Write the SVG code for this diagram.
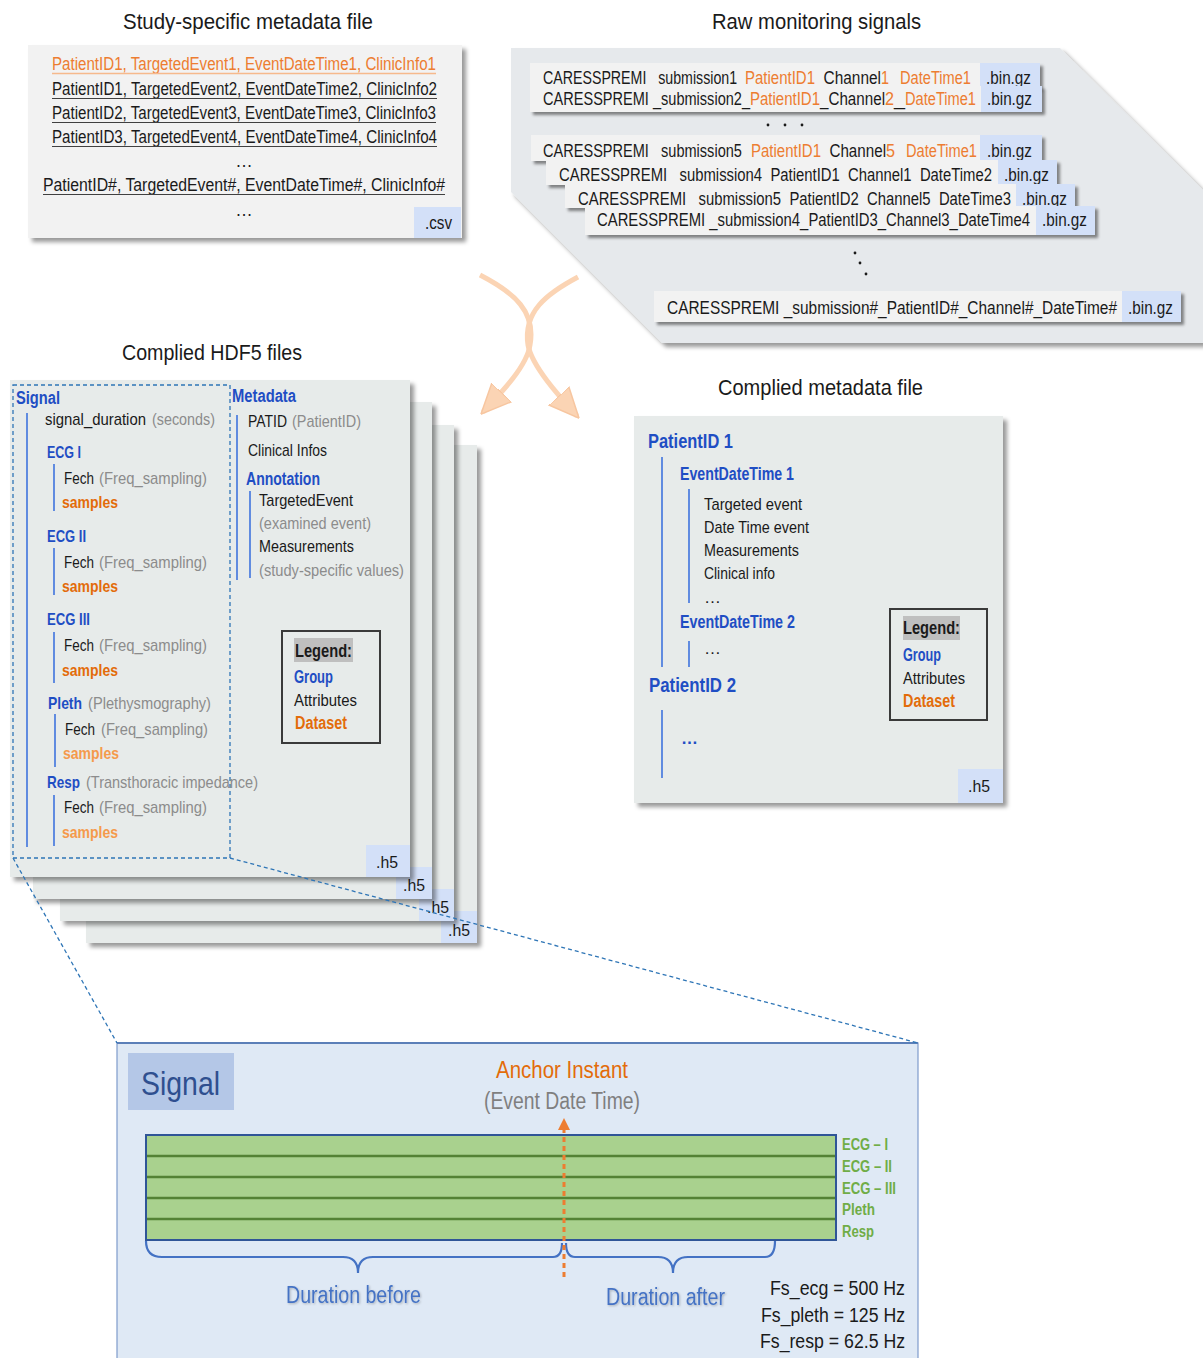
<svg xmlns="http://www.w3.org/2000/svg" width="1203" height="1358" viewBox="0 0 1203 1358">
<defs>
  <filter id="shadow" x="-5%" y="-5%" width="115%" height="115%">
    <feDropShadow dx="4" dy="4" stdDeviation="2" flood-color="#000" flood-opacity="0.4"/>
  </filter>
  <filter id="shadowSm" x="-5%" y="-20%" width="115%" height="160%">
    <feDropShadow dx="3" dy="3" stdDeviation="1.5" flood-color="#000" flood-opacity="0.45"/>
  </filter>
  <filter id="txtShadow" x="-5%" y="-20%" width="115%" height="160%">
    <feDropShadow dx="1" dy="1" stdDeviation="0.8" flood-color="#000" flood-opacity="0.25"/>
  </filter>
  <marker id="softHead" viewBox="0 0 10 10" refX="9" refY="5" markerWidth="30" markerHeight="30" markerUnits="userSpaceOnUse" orient="auto">
    <path d="M0,0.5 L10,5 L0,9.5 Z" fill="#fbd4b4" stroke="#f7c6a0" stroke-width="0.5"/>
  </marker>
  <marker id="anchorHead" viewBox="0 0 10 10" refX="5" refY="5" markerWidth="12" markerHeight="12" markerUnits="userSpaceOnUse" orient="auto">
    <path d="M0,0 L10,5 L0,10 Z" fill="#ed7d31"/>
  </marker>
</defs>
<style>
  text { font-family: 'Liberation Sans Narrow', 'Liberation Sans', Arial, sans-serif; fill: #1a1a1a; }
  .title { font-size: 22px; }
  .row { font-size: 17.5px; }
  .attr { font-size: 17px; }
  .grp { fill: #1f4ec4; font-weight: bold; }
  .ds { fill: #e36c0a; font-weight: bold; }
  .ds2 { fill: #f59a4c; font-weight: bold; }
  .gry { fill: #8c8c8c; }
  .or { fill: #ed7d31; }
  .paper { fill: #f2f2f2; }
  .page { fill: #e7ebea; filter: url(#shadow); }
  .ext { fill: #d3e0f8; }
  .tree { stroke: #3f74de; stroke-width: 1.6; fill: none; }
  .zoomline { stroke: #2e75b6; stroke-width: 1.3; stroke-dasharray: 4 3; fill: none; }
  .legend { fill: none; stroke: #3a3a3a; stroke-width: 2; }
  .fnbox { fill: #f2f2f2; filter: url(#shadowSm); }
  .uline { stroke: #404040; stroke-width: 1.2; }
</style>

<!-- Study-specific metadata file (.csv) -->
<g id="csv-file">
  <text class="title" x="123" y="29" textLength="250" lengthAdjust="spacingAndGlyphs">Study-specific metadata file</text>
  <rect x="28" y="45" width="434" height="193" class="paper" filter="url(#shadow)"/>
  <rect x="414" y="207" width="47" height="31" class="ext"/>
  <g class="row">
    <text x="52" y="70" class="or" textLength="384" lengthAdjust="spacingAndGlyphs">PatientID1, TargetedEvent1, EventDateTime1, ClinicInfo1</text>
    <text x="52" y="95" textLength="385" lengthAdjust="spacingAndGlyphs">PatientID1, TargetedEvent2, EventDateTime2, ClinicInfo2</text>
    <text x="52" y="119" textLength="384" lengthAdjust="spacingAndGlyphs">PatientID2, TargetedEvent3, EventDateTime3, ClinicInfo3</text>
    <text x="52" y="143" textLength="385" lengthAdjust="spacingAndGlyphs">PatientID3, TargetedEvent4, EventDateTime4, ClinicInfo4</text>
    <text x="43" y="191" textLength="402" lengthAdjust="spacingAndGlyphs">PatientID#, TargetedEvent#, EventDateTime#, ClinicInfo#</text>
  </g>
  <line x1="52" y1="73.5" x2="436" y2="73.5" stroke="#f6b98c" stroke-width="1.6"/>
  <line x1="52" y1="98.5" x2="437" y2="98.5" class="uline"/>
  <line x1="52" y1="122.5" x2="436" y2="122.5" class="uline"/>
  <line x1="52" y1="146.5" x2="437" y2="146.5" class="uline"/>
  <line x1="43" y1="194.5" x2="445" y2="194.5" class="uline"/>
  <text class="row" x="244" y="167" text-anchor="middle">…</text>
  <text class="row" x="244" y="216" text-anchor="middle">…</text>
  <text class="row" x="425" y="229" textLength="27" lengthAdjust="spacingAndGlyphs">.csv</text>
</g>

<!-- Raw monitoring signals (.bin.gz files) -->
<g id="raw-signals">
  <text class="title" x="712" y="29" textLength="209" lengthAdjust="spacingAndGlyphs">Raw monitoring signals</text>
  <polygon points="511,48 1060,48 1203,190 1203,343 662,343 511,192" fill="#e6e9ec" filter="url(#shadow)"/>

  <rect x="530" y="63" width="510" height="25" class="fnbox"/>
  <rect x="980" y="63" width="60" height="25" class="ext"/>
  <g class="row">
    <text x="543" y="84" textLength="202" lengthAdjust="spacingAndGlyphs">CARESSPREMI _submission1_</text>
    <text x="745" y="84" class="or" textLength="70" lengthAdjust="spacingAndGlyphs">PatientID1</text>
    <text x="815" y="84" textLength="66" lengthAdjust="spacingAndGlyphs">_Channel</text>
    <text x="881" y="84" class="or" textLength="8" lengthAdjust="spacingAndGlyphs">1</text>
    <text x="889" y="84" textLength="11" lengthAdjust="spacingAndGlyphs">_</text>
    <text x="900" y="84" class="or" textLength="71" lengthAdjust="spacingAndGlyphs">DateTime1</text>
    <text x="986" y="84" textLength="45" lengthAdjust="spacingAndGlyphs">.bin.gz</text>
  </g>

  <rect x="530" y="86" width="512" height="26" class="fnbox"/>
  <rect x="981" y="86" width="61" height="26" class="ext"/>
  <g class="row">
    <text x="543" y="105" textLength="207" lengthAdjust="spacingAndGlyphs">CARESSPREMI _submission2_</text>
    <text x="750" y="105" class="or" textLength="70" lengthAdjust="spacingAndGlyphs">PatientID1</text>
    <text x="820" y="105" textLength="65" lengthAdjust="spacingAndGlyphs">_Channel</text>
    <text x="885" y="105" class="or" textLength="9" lengthAdjust="spacingAndGlyphs">2</text>
    <text x="894" y="105" textLength="11" lengthAdjust="spacingAndGlyphs">_</text>
    <text x="905" y="105" class="or" textLength="71" lengthAdjust="spacingAndGlyphs">DateTime1</text>
    <text x="987" y="105" textLength="45" lengthAdjust="spacingAndGlyphs">.bin.gz</text>
  </g>

  <circle cx="768" cy="125" r="1.4" fill="#1a1a1a"/>
  <circle cx="785" cy="125" r="1.4" fill="#1a1a1a"/>
  <circle cx="802" cy="125" r="1.4" fill="#1a1a1a"/>

  <rect x="531" y="135" width="511" height="26" class="fnbox"/>
  <rect x="980" y="135" width="62" height="26" class="ext"/>
  <g class="row">
    <text x="543" y="157" textLength="207" lengthAdjust="spacingAndGlyphs">CARESSPREMI _submission5_</text>
    <text x="751" y="157" class="or" textLength="70" lengthAdjust="spacingAndGlyphs">PatientID1</text>
    <text x="821" y="157" textLength="65" lengthAdjust="spacingAndGlyphs">_Channel</text>
    <text x="886" y="157" class="or" textLength="9" lengthAdjust="spacingAndGlyphs">5</text>
    <text x="895" y="157" textLength="11" lengthAdjust="spacingAndGlyphs">_</text>
    <text x="906" y="157" class="or" textLength="71" lengthAdjust="spacingAndGlyphs">DateTime1</text>
    <text x="987" y="157" textLength="45" lengthAdjust="spacingAndGlyphs">.bin.gz</text>
  </g>

  <rect x="546" y="160" width="511" height="25" class="fnbox"/>
  <rect x="998" y="160" width="59" height="25" class="ext"/>
  <text class="row" x="559" y="181" textLength="433" lengthAdjust="spacingAndGlyphs">CARESSPREMI _submission4_PatientID1_Channel1_DateTime2</text>
  <text class="row" x="1004" y="181" textLength="45" lengthAdjust="spacingAndGlyphs">.bin.gz</text>

  <rect x="565" y="184" width="510" height="24" class="fnbox"/>
  <rect x="1016" y="184" width="59" height="24" class="ext"/>
  <text class="row" x="578" y="205" textLength="433" lengthAdjust="spacingAndGlyphs">CARESSPREMI _submission5_PatientID2_Channel5_DateTime3</text>
  <text class="row" x="1022" y="205" textLength="45" lengthAdjust="spacingAndGlyphs">.bin.gz</text>

  <rect x="585" y="206" width="510" height="29" class="fnbox"/>
  <rect x="1036" y="206" width="59" height="29" class="ext"/>
  <text class="row" x="597" y="226" textLength="433" lengthAdjust="spacingAndGlyphs">CARESSPREMI _submission4_PatientID3_Channel3_DateTime4</text>
  <text class="row" x="1042" y="226" textLength="45" lengthAdjust="spacingAndGlyphs">.bin.gz</text>

  <circle cx="855" cy="253" r="1.4" fill="#1a1a1a"/>
  <circle cx="860" cy="263" r="1.4" fill="#1a1a1a"/>
  <circle cx="866" cy="274" r="1.4" fill="#1a1a1a"/>

  <rect x="654" y="291" width="527" height="31" class="fnbox"/>
  <rect x="1122" y="291" width="59" height="31" class="ext"/>
  <text class="row" x="667" y="314" textLength="450" lengthAdjust="spacingAndGlyphs">CARESSPREMI _submission#_PatientID#_Channel#_DateTime#</text>
  <text class="row" x="1128" y="314" textLength="45" lengthAdjust="spacingAndGlyphs">.bin.gz</text>
</g>

<!-- Compiled HDF5 files: stack of pages -->
<g id="hdf5-files">
  <text class="title" x="122" y="360" textLength="180" lengthAdjust="spacingAndGlyphs">Complied HDF5 files</text>
  <rect x="86" y="445" width="391" height="498" class="page"/>
  <rect x="441" y="911" width="36" height="32" class="ext"/>
  <text class="attr" x="448" y="936" textLength="22" lengthAdjust="spacingAndGlyphs">.h5</text>

  <rect x="60" y="425" width="394" height="496" class="page"/>
  <rect x="419" y="889" width="35" height="32" class="ext"/>
  <text class="attr" x="427" y="913" textLength="22" lengthAdjust="spacingAndGlyphs">.h5</text>

  <rect x="33" y="402" width="399" height="497" class="page"/>
  <rect x="396" y="867" width="36" height="32" class="ext"/>
  <text class="attr" x="403" y="891" textLength="22" lengthAdjust="spacingAndGlyphs">.h5</text>

  <rect x="10" y="380" width="400" height="497" class="page"/>
  <rect x="366" y="845" width="44" height="32" class="ext"/>
  <text class="attr" x="376" y="868" textLength="22" lengthAdjust="spacingAndGlyphs">.h5</text>

  <!-- Signal group -->
  <rect x="13" y="385" width="217" height="473" class="zoomline"/>
  <text class="grp" x="16" y="404" font-size="18" textLength="44" lengthAdjust="spacingAndGlyphs">Signal</text>
  <line x1="27" y1="413" x2="27" y2="847" class="tree"/>
  <text class="attr" x="45" y="425" textLength="101" lengthAdjust="spacingAndGlyphs">signal_duration</text>
  <text class="attr gry" x="152" y="425" textLength="63" lengthAdjust="spacingAndGlyphs">(seconds)</text>

  <text class="attr grp" x="47" y="458" textLength="34" lengthAdjust="spacingAndGlyphs">ECG I</text>
  <line x1="54" y1="464" x2="54" y2="511" class="tree"/>
  <text class="attr" x="64" y="484" textLength="30" lengthAdjust="spacingAndGlyphs">Fech</text>
  <text class="attr gry" x="99" y="484" textLength="108" lengthAdjust="spacingAndGlyphs">(Freq_sampling)</text>
  <text class="attr ds" x="62" y="508" textLength="56" lengthAdjust="spacingAndGlyphs">samples</text>

  <text class="attr grp" x="47" y="542" textLength="39" lengthAdjust="spacingAndGlyphs">ECG II</text>
  <line x1="54" y1="548" x2="54" y2="595" class="tree"/>
  <text class="attr" x="64" y="568" textLength="30" lengthAdjust="spacingAndGlyphs">Fech</text>
  <text class="attr gry" x="99" y="568" textLength="108" lengthAdjust="spacingAndGlyphs">(Freq_sampling)</text>
  <text class="attr ds" x="62" y="592" textLength="56" lengthAdjust="spacingAndGlyphs">samples</text>

  <text class="attr grp" x="47" y="625" textLength="43" lengthAdjust="spacingAndGlyphs">ECG III</text>
  <line x1="54" y1="632" x2="54" y2="683" class="tree"/>
  <text class="attr" x="64" y="651" textLength="30" lengthAdjust="spacingAndGlyphs">Fech</text>
  <text class="attr gry" x="99" y="651" textLength="108" lengthAdjust="spacingAndGlyphs">(Freq_sampling)</text>
  <text class="attr ds" x="62" y="676" textLength="56" lengthAdjust="spacingAndGlyphs">samples</text>

  <text class="attr grp" x="48" y="709" textLength="34" lengthAdjust="spacingAndGlyphs">Pleth</text>
  <text class="attr gry" x="88" y="709" textLength="123" lengthAdjust="spacingAndGlyphs">(Plethysmography)</text>
  <line x1="55" y1="714" x2="55" y2="767" class="tree"/>
  <text class="attr" x="65" y="735" textLength="30" lengthAdjust="spacingAndGlyphs">Fech</text>
  <text class="attr gry" x="101" y="735" textLength="107" lengthAdjust="spacingAndGlyphs">(Freq_sampling)</text>
  <text class="attr ds2" x="63" y="759" textLength="56" lengthAdjust="spacingAndGlyphs">samples</text>

  <text class="attr grp" x="47" y="788" textLength="33" lengthAdjust="spacingAndGlyphs">Resp</text>
  <text class="attr gry" x="86" y="788" textLength="172" lengthAdjust="spacingAndGlyphs">(Transthoracic impedance)</text>
  <line x1="54" y1="795" x2="54" y2="846" class="tree"/>
  <text class="attr" x="64" y="813" textLength="30" lengthAdjust="spacingAndGlyphs">Fech</text>
  <text class="attr gry" x="99" y="813" textLength="108" lengthAdjust="spacingAndGlyphs">(Freq_sampling)</text>
  <text class="attr ds2" x="62" y="838" textLength="56" lengthAdjust="spacingAndGlyphs">samples</text>

  <!-- Metadata group -->
  <text class="grp" x="232" y="402" font-size="18" textLength="64" lengthAdjust="spacingAndGlyphs">Metadata</text>
  <line x1="237" y1="415" x2="237" y2="580" class="tree"/>
  <text class="attr" x="248" y="427" textLength="39" lengthAdjust="spacingAndGlyphs">PATID</text>
  <text class="attr gry" x="292" y="427" textLength="69" lengthAdjust="spacingAndGlyphs">(PatientID)</text>
  <text class="attr" x="248" y="456" textLength="79" lengthAdjust="spacingAndGlyphs">Clinical Infos</text>
  <text class="grp" x="246" y="485" font-size="18" textLength="74" lengthAdjust="spacingAndGlyphs">Annotation</text>
  <line x1="250" y1="491" x2="250" y2="578" class="tree"/>
  <text class="attr" x="259" y="506" textLength="94" lengthAdjust="spacingAndGlyphs">TargetedEvent</text>
  <text class="attr gry" x="259" y="529" textLength="112" lengthAdjust="spacingAndGlyphs">(examined event)</text>
  <text class="attr" x="259" y="552" textLength="95" lengthAdjust="spacingAndGlyphs">Measurements</text>
  <text class="attr gry" x="259" y="576" textLength="145" lengthAdjust="spacingAndGlyphs">(study-specific values)</text>

  <!-- Legend -->
  <rect x="282" y="631" width="98" height="112" class="legend"/>
  <rect x="294" y="638" width="59" height="24" fill="#bfbfbf"/>
  <text x="295" y="657" font-size="18" font-weight="bold" textLength="57" lengthAdjust="spacingAndGlyphs">Legend:</text>
  <text class="grp" x="294" y="683" font-size="18" textLength="39" lengthAdjust="spacingAndGlyphs">Group</text>
  <text class="attr" x="294" y="706" textLength="63" lengthAdjust="spacingAndGlyphs">Attributes</text>
  <text class="ds" x="295" y="729" font-size="18" textLength="52" lengthAdjust="spacingAndGlyphs">Dataset</text>
</g>

<!-- Compiled metadata file -->
<g id="metadata-h5">
  <text class="title" x="718" y="395" textLength="205" lengthAdjust="spacingAndGlyphs">Complied metadata file</text>
  <rect x="634" y="416" width="369" height="387" class="page"/>
  <rect x="958" y="769" width="45" height="34" class="ext"/>
  <text class="attr" x="968" y="792" textLength="22" lengthAdjust="spacingAndGlyphs">.h5</text>

  <text class="grp" x="648" y="448" font-size="20" textLength="85" lengthAdjust="spacingAndGlyphs">PatientID 1</text>
  <line x1="662" y1="457" x2="662" y2="667" class="tree"/>
  <text class="grp" x="680" y="480" font-size="18" textLength="114" lengthAdjust="spacingAndGlyphs">EventDateTime 1</text>
  <line x1="689" y1="489" x2="689" y2="603" class="tree"/>
  <text class="attr" x="704" y="510" textLength="98" lengthAdjust="spacingAndGlyphs">Targeted event</text>
  <text class="attr" x="704" y="533" textLength="105" lengthAdjust="spacingAndGlyphs">Date Time event</text>
  <text class="attr" x="704" y="556" textLength="95" lengthAdjust="spacingAndGlyphs">Measurements</text>
  <text class="attr" x="704" y="579" textLength="71" lengthAdjust="spacingAndGlyphs">Clinical info</text>
  <text class="attr" x="704" y="603">…</text>
  <text class="grp" x="680" y="628" font-size="18" textLength="115" lengthAdjust="spacingAndGlyphs">EventDateTime 2</text>
  <line x1="689" y1="641" x2="689" y2="667" class="tree"/>
  <text class="attr" x="704" y="654">…</text>
  <text class="grp" x="649" y="692" font-size="20" textLength="87" lengthAdjust="spacingAndGlyphs">PatientID 2</text>
  <line x1="662" y1="710" x2="662" y2="778" class="tree"/>
  <text class="attr grp" x="681" y="744">…</text>

  <rect x="890" y="609" width="97" height="111" class="legend"/>
  <rect x="903" y="616" width="57" height="24" fill="#bfbfbf"/>
  <text x="903" y="634" font-size="18" font-weight="bold" textLength="57" lengthAdjust="spacingAndGlyphs">Legend:</text>
  <text class="grp" x="903" y="661" font-size="18" textLength="38" lengthAdjust="spacingAndGlyphs">Group</text>
  <text class="attr" x="903" y="684" textLength="62" lengthAdjust="spacingAndGlyphs">Attributes</text>
  <text class="ds" x="903" y="707" font-size="18" textLength="52" lengthAdjust="spacingAndGlyphs">Dataset</text>
</g>

<!-- Signal detail panel -->
<g id="signal-detail">
  <rect x="117" y="1043" width="801" height="330" fill="#dfe9f5" stroke="#7f9ccc" stroke-width="1.2"/>
  <line x1="117" y1="1043" x2="918" y2="1043" stroke="#5b7fb8" stroke-width="2"/>
  <rect x="128" y="1053" width="106" height="57" fill="#b4c7e7"/>
  <text x="141" y="1095" font-size="34" style="fill:#2f4f8f" textLength="79" lengthAdjust="spacingAndGlyphs">Signal</text>

  <text x="496" y="1078" font-size="23" style="fill:#e36c0a" textLength="132" lengthAdjust="spacingAndGlyphs">Anchor Instant</text>
  <text x="484" y="1109" font-size="23" style="fill:#7f7f7f" textLength="156" lengthAdjust="spacingAndGlyphs">(Event Date Time)</text>

  <!-- channel bands -->
  <rect x="146" y="1135" width="690" height="105" fill="#a9d18e"/>
  <g stroke="#548235" stroke-width="2.5">
    <line x1="146" y1="1156" x2="836" y2="1156"/>
    <line x1="146" y1="1177" x2="836" y2="1177"/>
    <line x1="146" y1="1198" x2="836" y2="1198"/>
    <line x1="146" y1="1219" x2="836" y2="1219"/>
  </g>
  <rect x="146" y="1135" width="690" height="105" fill="none" stroke="#2f5597" stroke-width="2"/>
  <g font-size="16" font-weight="bold">
    <text x="842" y="1150" style="fill:#70ad47" textLength="46" lengthAdjust="spacingAndGlyphs">ECG – I</text>
    <text x="842" y="1172" style="fill:#70ad47" textLength="50" lengthAdjust="spacingAndGlyphs">ECG – II</text>
    <text x="842" y="1194" style="fill:#70ad47" textLength="54" lengthAdjust="spacingAndGlyphs">ECG – III</text>
    <text x="842" y="1215" style="fill:#70ad47" textLength="33" lengthAdjust="spacingAndGlyphs">Pleth</text>
    <text x="842" y="1237" style="fill:#70ad47" textLength="32" lengthAdjust="spacingAndGlyphs">Resp</text>
  </g>

  <!-- duration braces -->
  <path d="M146,1241 Q146,1257 162,1257 L343,1257 Q358,1257 358,1273 Q358,1257 373,1257 L553,1257 Q562,1257 562,1243" fill="none" stroke="#4472c4" stroke-width="2.2"/>
  <path d="M566,1243 Q566,1257 575,1257 L658,1257 Q673,1257 673,1273 Q673,1257 688,1257 L765,1257 Q775,1257 775,1241" fill="none" stroke="#4472c4" stroke-width="2.2"/>

  <!-- anchor instant marker -->
  <line x1="564" y1="1277" x2="564" y2="1124" stroke="#ed7d31" stroke-width="3" stroke-dasharray="5 4" marker-end="url(#anchorHead)"/>

  <g filter="url(#txtShadow)">
    <text x="286" y="1303" font-size="23" style="fill:#4472c4" textLength="135" lengthAdjust="spacingAndGlyphs">Duration before</text>
    <text x="606" y="1305" font-size="23" style="fill:#4472c4" textLength="119" lengthAdjust="spacingAndGlyphs">Duration after</text>
  </g>
  <text x="770" y="1295" font-size="20" textLength="135" lengthAdjust="spacingAndGlyphs">Fs_ecg = 500 Hz</text>
  <text x="761" y="1322" font-size="20" textLength="144" lengthAdjust="spacingAndGlyphs">Fs_pleth = 125 Hz</text>
  <text x="760" y="1348" font-size="20" textLength="145" lengthAdjust="spacingAndGlyphs">Fs_resp = 62.5 Hz</text>
</g>

<!-- Connectors -->
<g id="connectors">
  <path d="M480,275 C515,293 536,312 530,345 C527,366 502,392 483,412" fill="none" stroke="#fbd4b4" stroke-width="5" marker-end="url(#softHead)"/>
  <path d="M578,277 C546,294 523,312 528,345 C532,366 558,395 577,416" fill="none" stroke="#fbd4b4" stroke-width="5" marker-end="url(#softHead)"/>
  <line x1="13" y1="858" x2="117" y2="1043" class="zoomline"/>
  <line x1="230" y1="858" x2="918" y2="1043" class="zoomline"/>
</g>
</svg>
